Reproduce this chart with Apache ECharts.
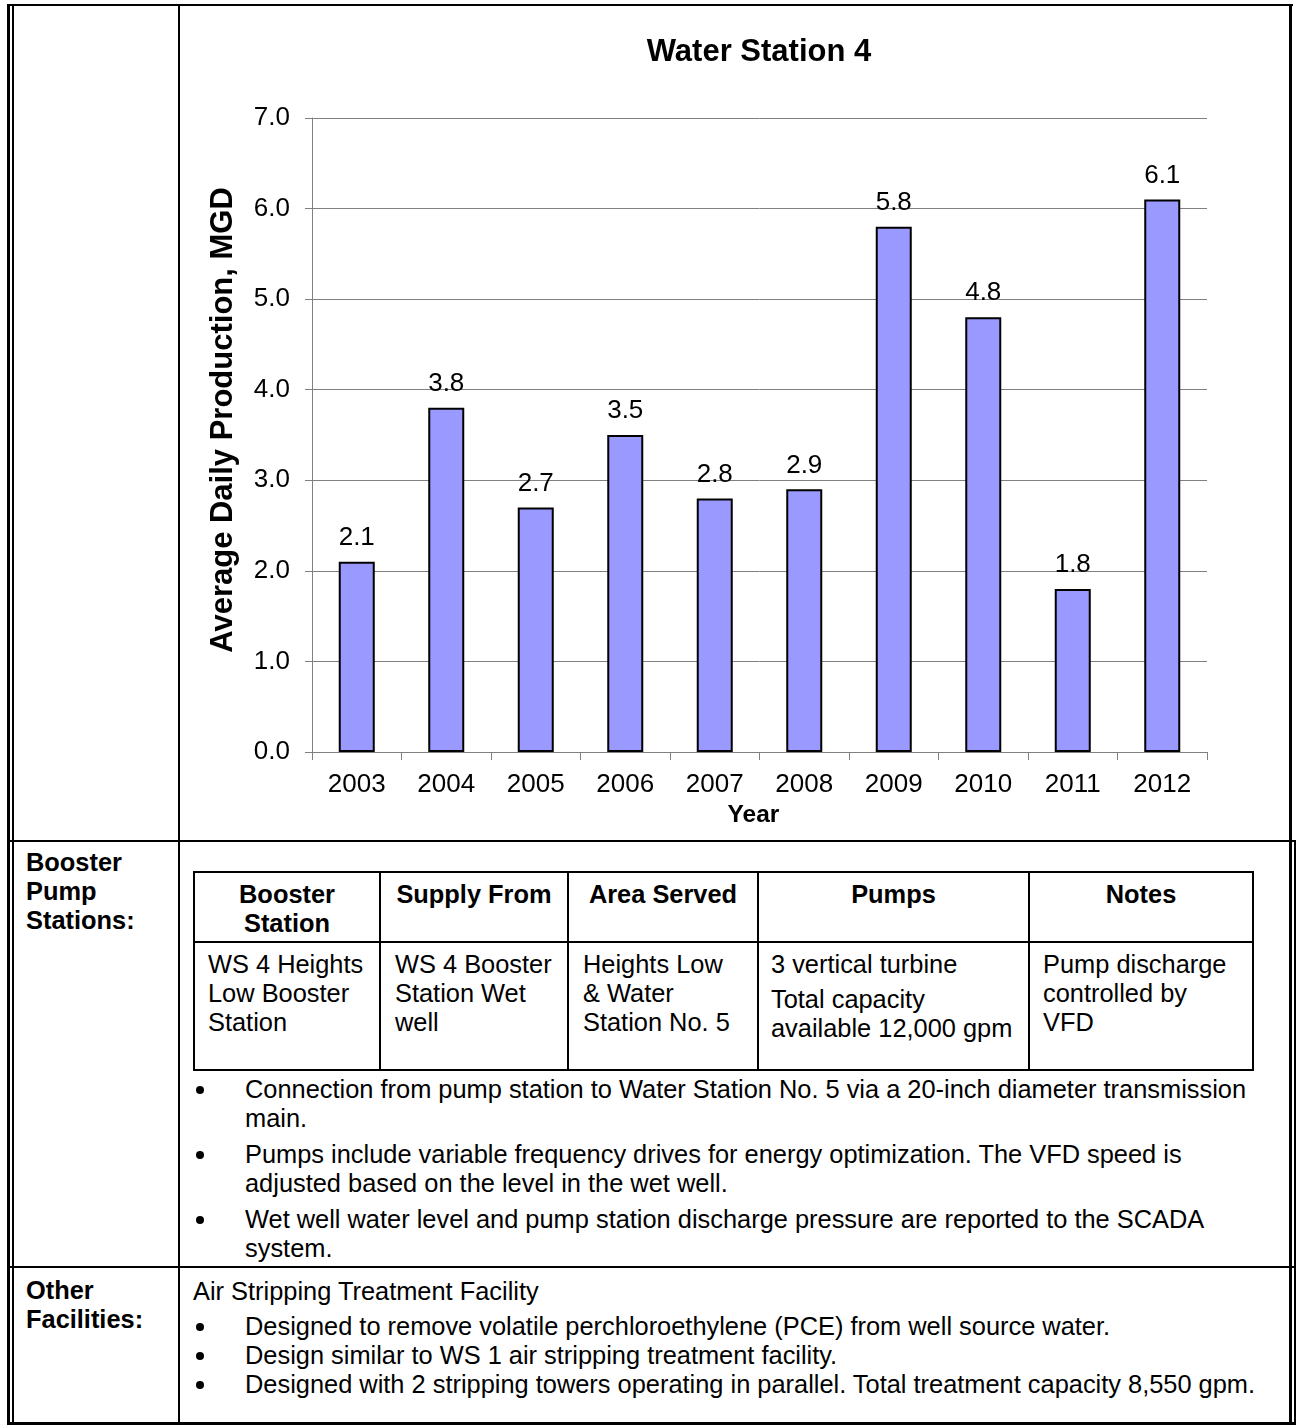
<!DOCTYPE html>
<html>
<head>
<meta charset="utf-8">
<title>Water Station 4</title>
<script src="https://cdn.jsdelivr.net/npm/echarts@6/dist/echarts.min.js"></script>
<style>
  html, body { margin: 0; padding: 0; background: #fff; }
  body { width: 1296px; height: 1427px; position: relative; overflow: hidden;
         font-family: "Liberation Sans", Arial, sans-serif; color: #000; }
  .ln { position: absolute; background: #000; }
  .tx { position: absolute; font-size: 25.4px; line-height: 29px; white-space: nowrap; }
  .b { font-weight: bold; }
  .c { text-align: center; }
  .dot { position: absolute; left: 196px; width: 8px; height: 8px; border-radius: 50%; background: #000; }
  #chart { position: absolute; left: 180px; top: 6px; width: 1109px; height: 834px; }
</style>
</head>
<body>

<!-- chart data -->
<script>
const years = ['2003', '2004', '2005', '2006', '2007', '2008', '2009', '2010', '2011', '2012'];
const production = [2.1, 3.8, 2.7, 3.5, 2.8, 2.9, 5.8, 4.8, 1.8, 6.1];
const yMin = 0, yMax = 7, yStep = 1;
</script>

<!-- outer frame -->
<div class="ln" style="left:7px;top:4px;width:3px;height:1421px"></div>
<div class="ln" style="left:12px;top:6px;width:2px;height:1417px"></div>
<div class="ln" style="left:7px;top:4px;width:1286px;height:2px"></div>
<div class="ln" style="left:178px;top:4px;width:2px;height:1420px"></div>
<div class="ln" style="left:1289px;top:4px;width:3px;height:1421px"></div>
<div class="ln" style="left:1294px;top:841px;width:2px;height:584px"></div>
<div class="ln" style="left:7px;top:840px;width:1289px;height:2px"></div>
<div class="ln" style="left:7px;top:1266px;width:1289px;height:2px"></div>
<div class="ln" style="left:7px;top:1422px;width:1289px;height:3px"></div>

<!-- production chart -->
<div id="chart"></div>

<!-- booster pump stations -->
<div class="tx b" style="left:26px;top:848px">Booster<br>Pump<br>Stations:</div>

<div class="ln" style="left:193px;top:871px;width:1061px;height:2px"></div>
<div class="ln" style="left:193px;top:941px;width:1061px;height:2px"></div>
<div class="ln" style="left:193px;top:1069px;width:1061px;height:2px"></div>
<div class="ln" style="left:193px;top:871px;width:2px;height:200px"></div>
<div class="ln" style="left:379px;top:871px;width:2px;height:200px"></div>
<div class="ln" style="left:567px;top:871px;width:2px;height:200px"></div>
<div class="ln" style="left:757px;top:871px;width:2px;height:200px"></div>
<div class="ln" style="left:1028px;top:871px;width:2px;height:200px"></div>
<div class="ln" style="left:1252px;top:871px;width:2px;height:200px"></div>

<div class="tx b c" style="left:195px;width:184px;top:880px">Booster<br>Station</div>
<div class="tx b c" style="left:381px;width:186px;top:880px">Supply From</div>
<div class="tx b c" style="left:569px;width:188px;top:880px">Area Served</div>
<div class="tx b c" style="left:759px;width:269px;top:880px">Pumps</div>
<div class="tx b c" style="left:1030px;width:222px;top:880px">Notes</div>

<div class="tx" style="left:208px;top:950px">WS 4 Heights<br>Low Booster<br>Station</div>
<div class="tx" style="left:395px;top:950px">WS 4 Booster<br>Station Wet<br>well</div>
<div class="tx" style="left:583px;top:950px">Heights Low<br>&amp; Water<br>Station No. 5</div>
<div class="tx" style="left:771px;top:950px">3 vertical turbine</div>
<div class="tx" style="left:771px;top:985px">Total capacity<br>available 12,000 gpm</div>
<div class="tx" style="left:1043px;top:950px">Pump discharge<br>controlled by<br>VFD</div>

<div class="dot" style="top:1086px"></div>
<div class="tx" style="left:245px;top:1075px">Connection from pump station to Water Station No. 5 via a 20-inch diameter transmission<br>main.</div>
<div class="dot" style="top:1151px"></div>
<div class="tx" style="left:245px;top:1140px">Pumps include variable frequency drives for energy optimization. The VFD speed is<br>adjusted based on the level in the wet well.</div>
<div class="dot" style="top:1216px"></div>
<div class="tx" style="left:245px;top:1205px">Wet well water level and pump station discharge pressure are reported to the SCADA<br>system.</div>

<!-- other facilities -->
<div class="tx b" style="left:26px;top:1276px">Other<br>Facilities:</div>
<div class="tx" style="left:193px;top:1277px">Air Stripping Treatment Facility</div>
<div class="dot" style="top:1323px"></div>
<div class="tx" style="left:245px;top:1312px">Designed to remove volatile perchloroethylene (PCE) from well source water.</div>
<div class="dot" style="top:1352px"></div>
<div class="tx" style="left:245px;top:1341px">Design similar to WS 1 air stripping treatment facility.</div>
<div class="dot" style="top:1381px"></div>
<div class="tx" style="left:245px;top:1370px">Designed with 2 stripping towers operating in parallel. Total treatment capacity 8,550 gpm.</div>

<script>
const FONT = '"Liberation Sans", Arial, sans-serif';
const GRAY = '#808080';

const chart = echarts.init(document.getElementById('chart'), null, { renderer: 'canvas' });
chart.setOption({
  animation: false,
  textStyle: { fontFamily: FONT, color: '#000' },
  title: {
    text: 'Water Station 4',
    left: 574,
    top: 26,
    textAlign: 'center',
    textStyle: { fontFamily: FONT, fontSize: 31, fontWeight: 'bold', color: '#000' }
  },
  grid: { left: 132, right: 82, top: 112, bottom: 88 },
  xAxis: {
    type: 'category',
    data: years,
    name: 'Year',
    nameLocation: 'middle',
    nameGap: 50,
    nameTextStyle: { fontFamily: FONT, fontSize: 24.5, fontWeight: 'bold', color: '#000', padding: [0, 12, 0, 0] },
    axisLine: { show: true, lineStyle: { color: GRAY, width: 1 } },
    axisTick: { show: true, length: 8, alignWithLabel: false, lineStyle: { color: GRAY, width: 1 } },
    axisLabel: { interval: 0, fontFamily: FONT, fontSize: 26, color: '#000', margin: 20 },
    splitLine: { show: false }
  },
  yAxis: {
    type: 'value',
    min: yMin,
    max: yMax,
    interval: yStep,
    name: 'Average Daily Production, MGD',
    nameLocation: 'middle',
    nameRotate: 90,
    nameGap: 73,
    nameTextStyle: { fontFamily: FONT, fontSize: 31, fontWeight: 'bold', color: '#000', padding: [0, 0, 0, 30] },
    axisLine: { show: true, lineStyle: { color: GRAY, width: 1 } },
    axisTick: { show: true, length: 7, lineStyle: { color: GRAY, width: 1 } },
    axisLabel: { fontFamily: FONT, fontSize: 26, color: '#000', margin: 22, formatter: v => v.toFixed(1) },
    splitLine: { show: true, lineStyle: { color: GRAY, width: 1 } }
  },
  series: [{
    type: 'bar',
    data: production,
    barWidth: 36,
    itemStyle: { color: '#9999FF', borderColor: '#000', borderWidth: 2 },
    label: {
      show: true,
      position: 'top',
      distance: 11,
      fontFamily: FONT,
      fontSize: 26,
      color: '#000',
      formatter: p => p.value.toFixed(1)
    }
  }]
});
</script>
</body>
</html>
